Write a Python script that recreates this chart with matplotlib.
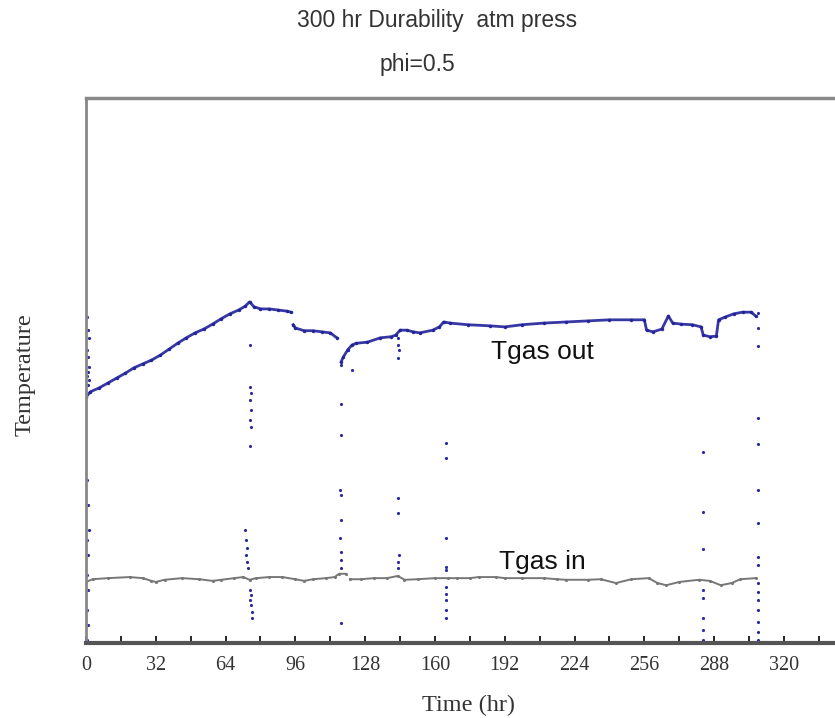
import numpy as np
import matplotlib.pyplot as plt

# Tgas out trace (hr, temperature in arbitrary units)
t_out = [0, 2, 6, 10, 14, 18, 22, 26, 30, 34, 38, 42, 46, 50, 54, 58, 62, 66, 70, 73,
         75, 77, 80, 84, 88, 92, 94, np.nan,
         95, 96, 100, 104, 108, 112, 115, np.nan,
         117, 118, 120, 122, 124, 129, 135, 140, 142, 144, 147, 150, 153, 159, 162,
         164, 167, 175, 185, 192, 200, 210, 220, 230, 240, 250, 256, 257, 260, 264,
         267, 269, 273, 278, 282, 283, 286, 289, 290, 293, 297, 301, 305, 307]
v_out = [451, 461, 468, 477, 486, 495, 505, 512, 519, 528, 539, 550, 560, 569, 576, 585, 595, 604, 611, 618,
         626, 617, 613, 613, 611, 609, 607, np.nan,
         584, 578, 573, 573, 571, 569, 560, np.nan,
         516, 525, 538, 547, 550, 552, 560, 562, 565, 574, 574, 571, 569, 574, 580,
         589, 587, 584, 582, 580, 584, 587, 589, 591, 593, 593, 593, 574, 571, 576,
         600, 587, 585, 584, 580, 565, 562, 563, 593, 598, 604, 607, 607, 600]

# Tgas in trace
t_in = [0, 3, 10, 20, 26, 30, 32, 36, 44, 52, 58, 62, 68, 72, 75, 78, 84, 90, 96, 100,
        104, 110, 114, 116, 119, np.nan,
        121, 126, 132, 138, 143, 146, 152, 160, 166, 170, 176, 180, 188, 192, 200, 210,
        216, 220, 230, 236, 243, 250, 258, 262, 266, 272, 281, 286, 291, 296, 300, 307]
v_in = [112, 117, 119, 121, 119, 114, 112, 116, 119, 117, 114, 116, 119, 121, 116, 119, 121, 121, 117, 114,
        117, 119, 121, 127, 127, np.nan,
        117, 117, 119, 119, 123, 116, 117, 119, 119, 119, 119, 121, 121, 119, 119, 119,
        117, 116, 116, 117, 110, 117, 119, 110, 106, 112, 116, 114, 106, 110, 117, 119]

# dropout spikes (blue dots)
spike_t = [0.5, 1, 1.5, 0.5, 1, 1.5, 1, 0.5, 1.5, 1, 0.5, 1, 1.5, 0.5, 1, 0.5, 1, 0.5, 1, 0.5,
           75, 75, 75.5, 75, 75.5, 75, 75.5, 75,
           73, 73.5, 74, 73.5, 74, 74.5, 75, 75.5, 75, 75.5, 76, 76,
           117, 117, 117, 116.5, 117, 117, 116.5, 117, 117, 117, 117, 122,
           143, 143, 143.5, 143, 143, 143, 143.5, 143, 143,
           165, 165, 165, 165, 165, 165, 165, 165, 165, 165,
           283, 283, 283, 283, 283, 283, 283, 283,
           308, 308, 308, 308, 308, 308, 308, 308, 308, 308, 308, 308, 308, 308, 308, 308]
spike_v = [598, 574, 560, 538, 525, 506, 497, 490, 483, 473, 299, 253, 207, 189, 161, 125, 97, 61, 33, 6,
           547, 470, 459, 446, 428, 409, 396, 361,
           207, 189, 174, 161, 149, 138, 97, 88, 79, 70, 57, 46,
           510, 439, 382, 281, 272, 226, 193, 167, 152, 138, 37, 501,
           560, 547, 538, 523, 266, 239, 161, 149, 138,
           367, 339, 193, 139, 134, 103, 90, 79, 61, 46,
           350, 240, 172, 97, 83, 46, 24, 6,
           606, 578, 545, 413, 365, 281, 220, 158, 143, 110, 94, 79, 61, 39, 20, 6]

x_ticks = [0, 32, 64, 96, 128, 160, 192, 224, 256, 288, 320]

serif = 'Liberation Serif'
sans = 'Liberation Sans'

fig = plt.figure(figsize=(8.35, 7.18), dpi=100)
ax = fig.add_axes([86 / 835, 75 / 718, 749 / 835, 545 / 718])

ax.plot(t_out, v_out, color='#22229a', lw=2.0, marker='.', ms=3, alpha=0.9)
ax.plot(t_in, v_in, color='#777777', lw=1.4, marker='.', ms=2.5)
ax.plot(spike_t, spike_v, ls='none', marker='.', ms=2.5, color='#2a2aa0')

ax.set_xlim(0, 343.4)
ax.set_ylim(0, 1000)
ax.set_xticks(x_ticks)
ax.set_xticks(np.arange(0, 344, 16), minor=True)
ax.set_yticks([])
ax.tick_params(axis='x', which='both', direction='in', length=5, width=1.2,
               labelsize=14.5, pad=9, color='black')
for lab in ax.get_xticklabels():
    lab.set_fontfamily(serif)
    lab.set_color('#333333')

ax.spines['right'].set_visible(False)
ax.spines['top'].set_color('#888888')
ax.spines['top'].set_linewidth(2.5)
ax.spines['left'].set_color('#888888')
ax.spines['left'].set_linewidth(2)
ax.spines['bottom'].set_color('#555555')
ax.spines['bottom'].set_linewidth(3)

fig.text(542 / 835, 1 - 352 / 718, 'Tgas out', fontsize=19,
         family=sans, color='#111111', ha='center', va='center')
fig.text(542 / 835, 1 - 562 / 718, 'Tgas in', fontsize=19,
         family=sans, color='#111111', ha='center', va='center')

fig.text(437 / 835, 1 - 21 / 718, '300 hr Durability  atm press', fontsize=16.5,
         family=sans, color='#333333', ha='center', va='center')
fig.text(417 / 835, 1 - 64 / 718, 'phi=0.5', fontsize=16.5,
         family=sans, color='#333333', ha='center', va='center')
fig.text(468 / 835, 1 - 705 / 718, 'Time (hr)', fontsize=17.5,
         family=serif, color='#333333', ha='center', va='center')
fig.text(25 / 835, 1 - 375 / 718, 'Temperature', fontsize=17.5, rotation=90,
         family=serif, color='#333333', ha='center', va='center')

plt.savefig('out.png', dpi=100)
